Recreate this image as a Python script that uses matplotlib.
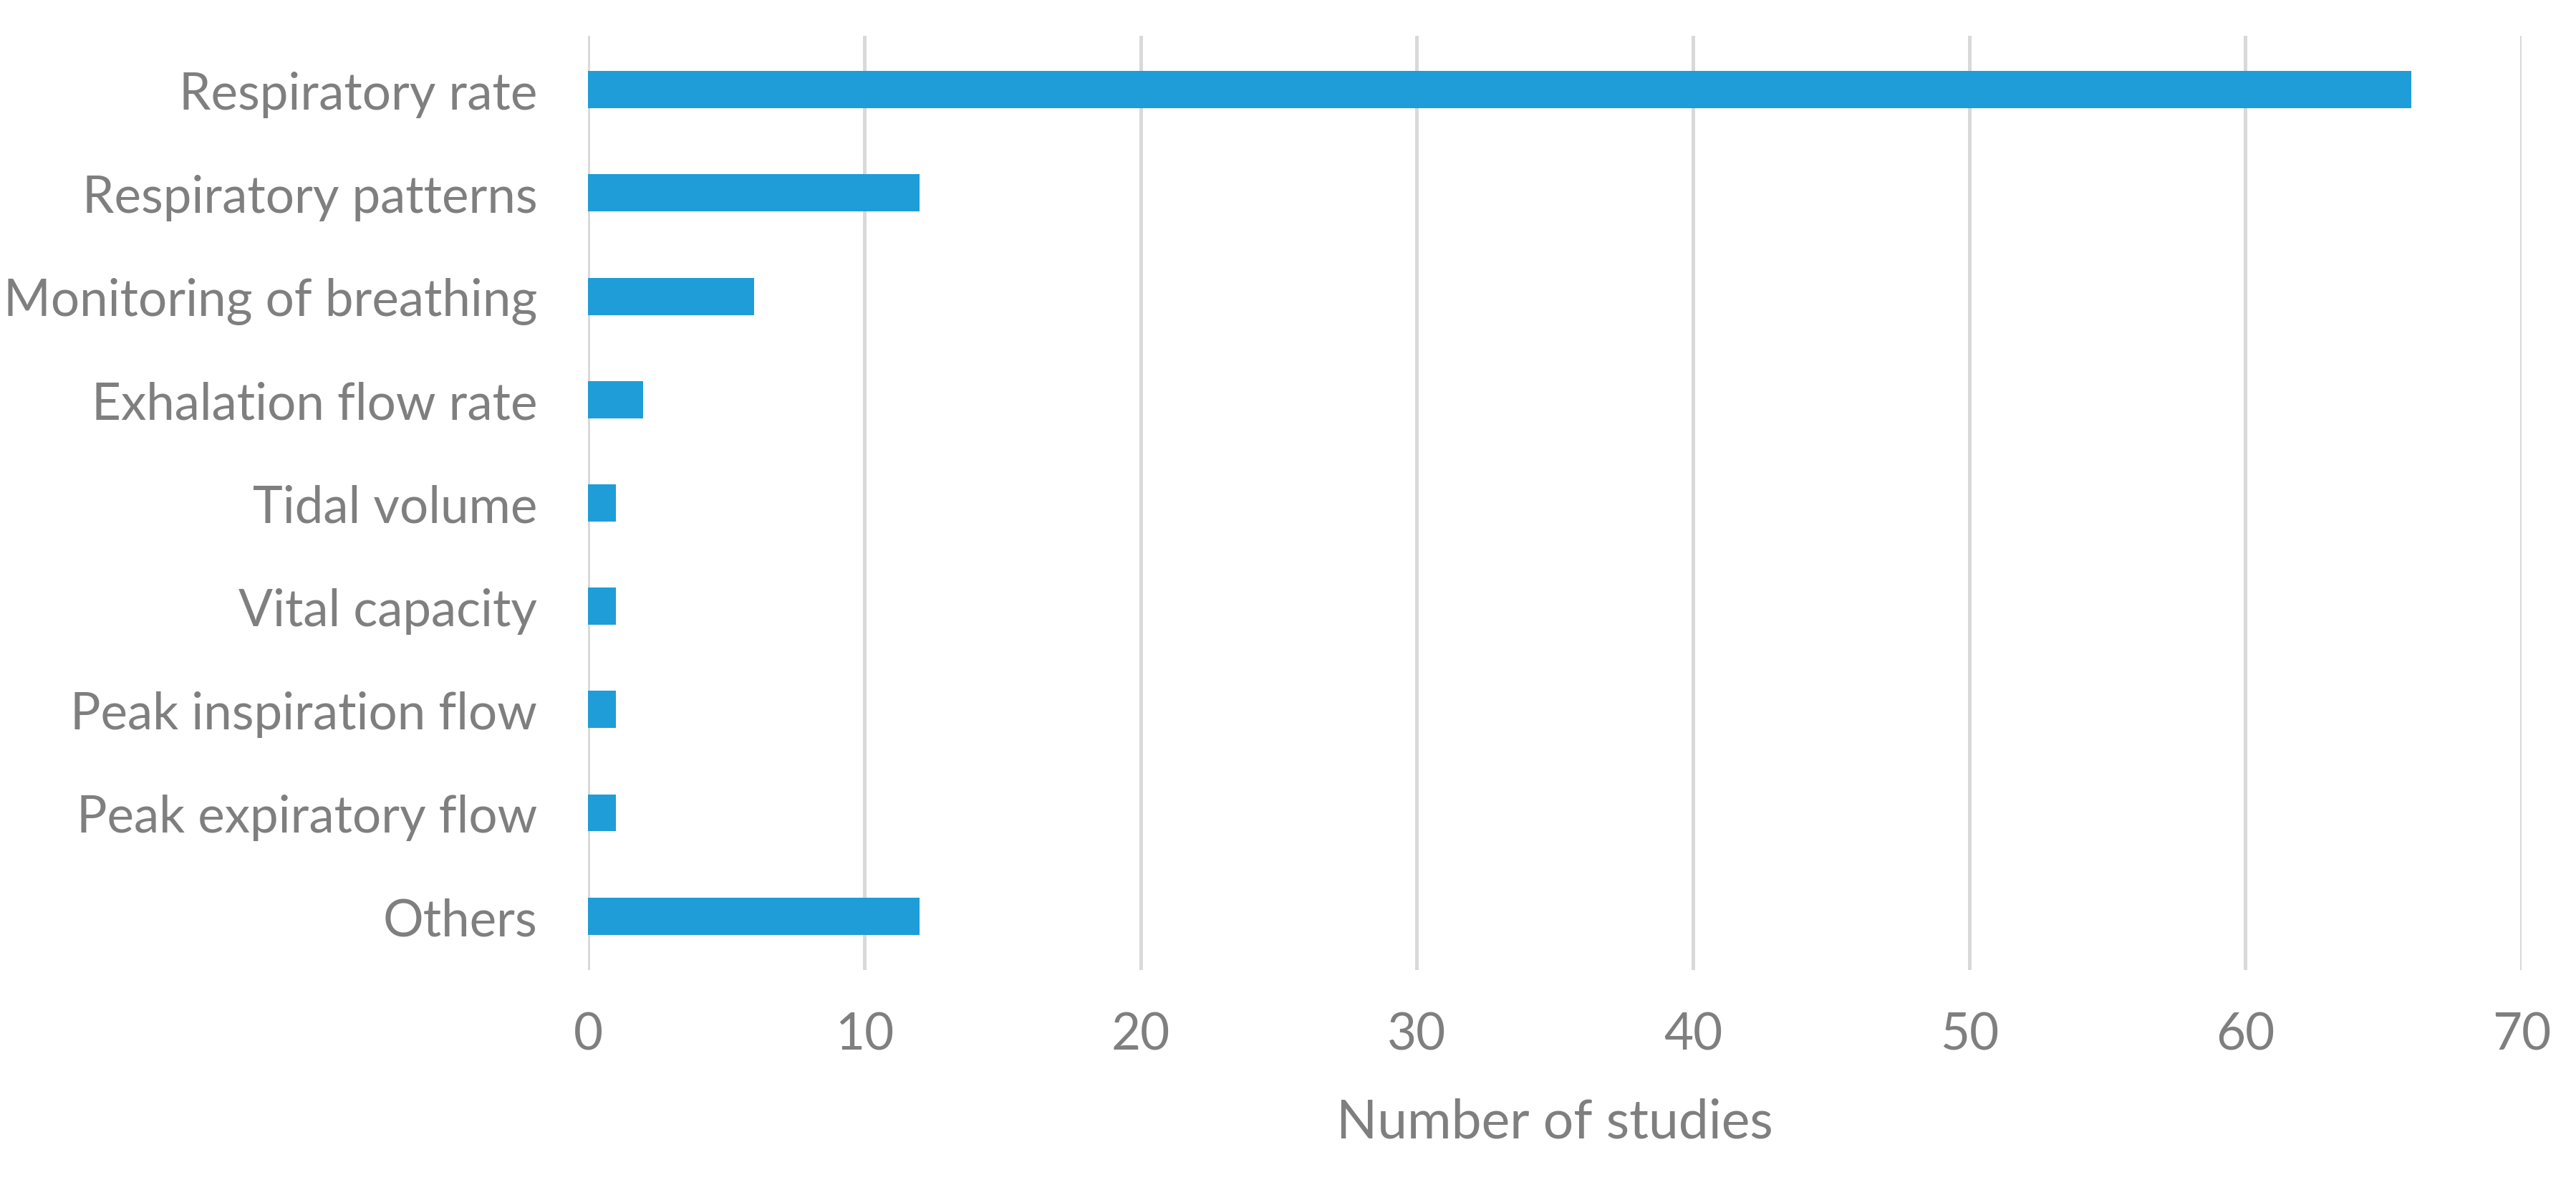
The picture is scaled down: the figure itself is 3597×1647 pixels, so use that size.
import matplotlib
matplotlib.use('Agg')
import matplotlib.pyplot as plt

categories = [
    'Respiratory rate',
    'Respiratory patterns',
    'Monitoring of breathing',
    'Exhalation flow rate',
    'Tidal volume',
    'Vital capacity',
    'Peak inspiration flow',
    'Peak expiratory flow',
    'Others',
]
counts = [66, 12, 6, 2, 1, 1, 1, 1, 12]
x_ticks = [0, 10, 20, 30, 40, 50, 60, 70]

BAR = '#1e9dd8'
TXT = '#7f7f7f'
GRID = '#d9d9d9'

plt.rcParams['font.family'] = ['Lato', 'DejaVu Sans']

fig = plt.figure(figsize=(11.99, 5.493), dpi=300)
ax = fig.add_axes([0.2283, 0.178, 0.7506, 0.791])

pos = list(range(len(categories)))
ax.barh(pos, counts, height=0.36, color=BAR, zorder=3)

ax.set_ylim(len(categories) - 0.48, -0.52)
ax.set_xlim(0, 70)
ax.set_xticks(x_ticks)
ax.set_yticks(pos)
ax.set_yticklabels(categories)

ax.grid(axis='x', color=GRID, lw=1.2, zorder=0)
ax.set_axisbelow(True)
for s in ax.spines.values():
    s.set_visible(False)
ax.tick_params(axis='both', length=0, colors=TXT, labelsize=17)
ax.tick_params(axis='x', pad=14)
ax.tick_params(axis='y', pad=17)

ax.set_xlabel('Number of studies', color=TXT, fontsize=18, labelpad=13)

fig.savefig('out.png', dpi=300)
